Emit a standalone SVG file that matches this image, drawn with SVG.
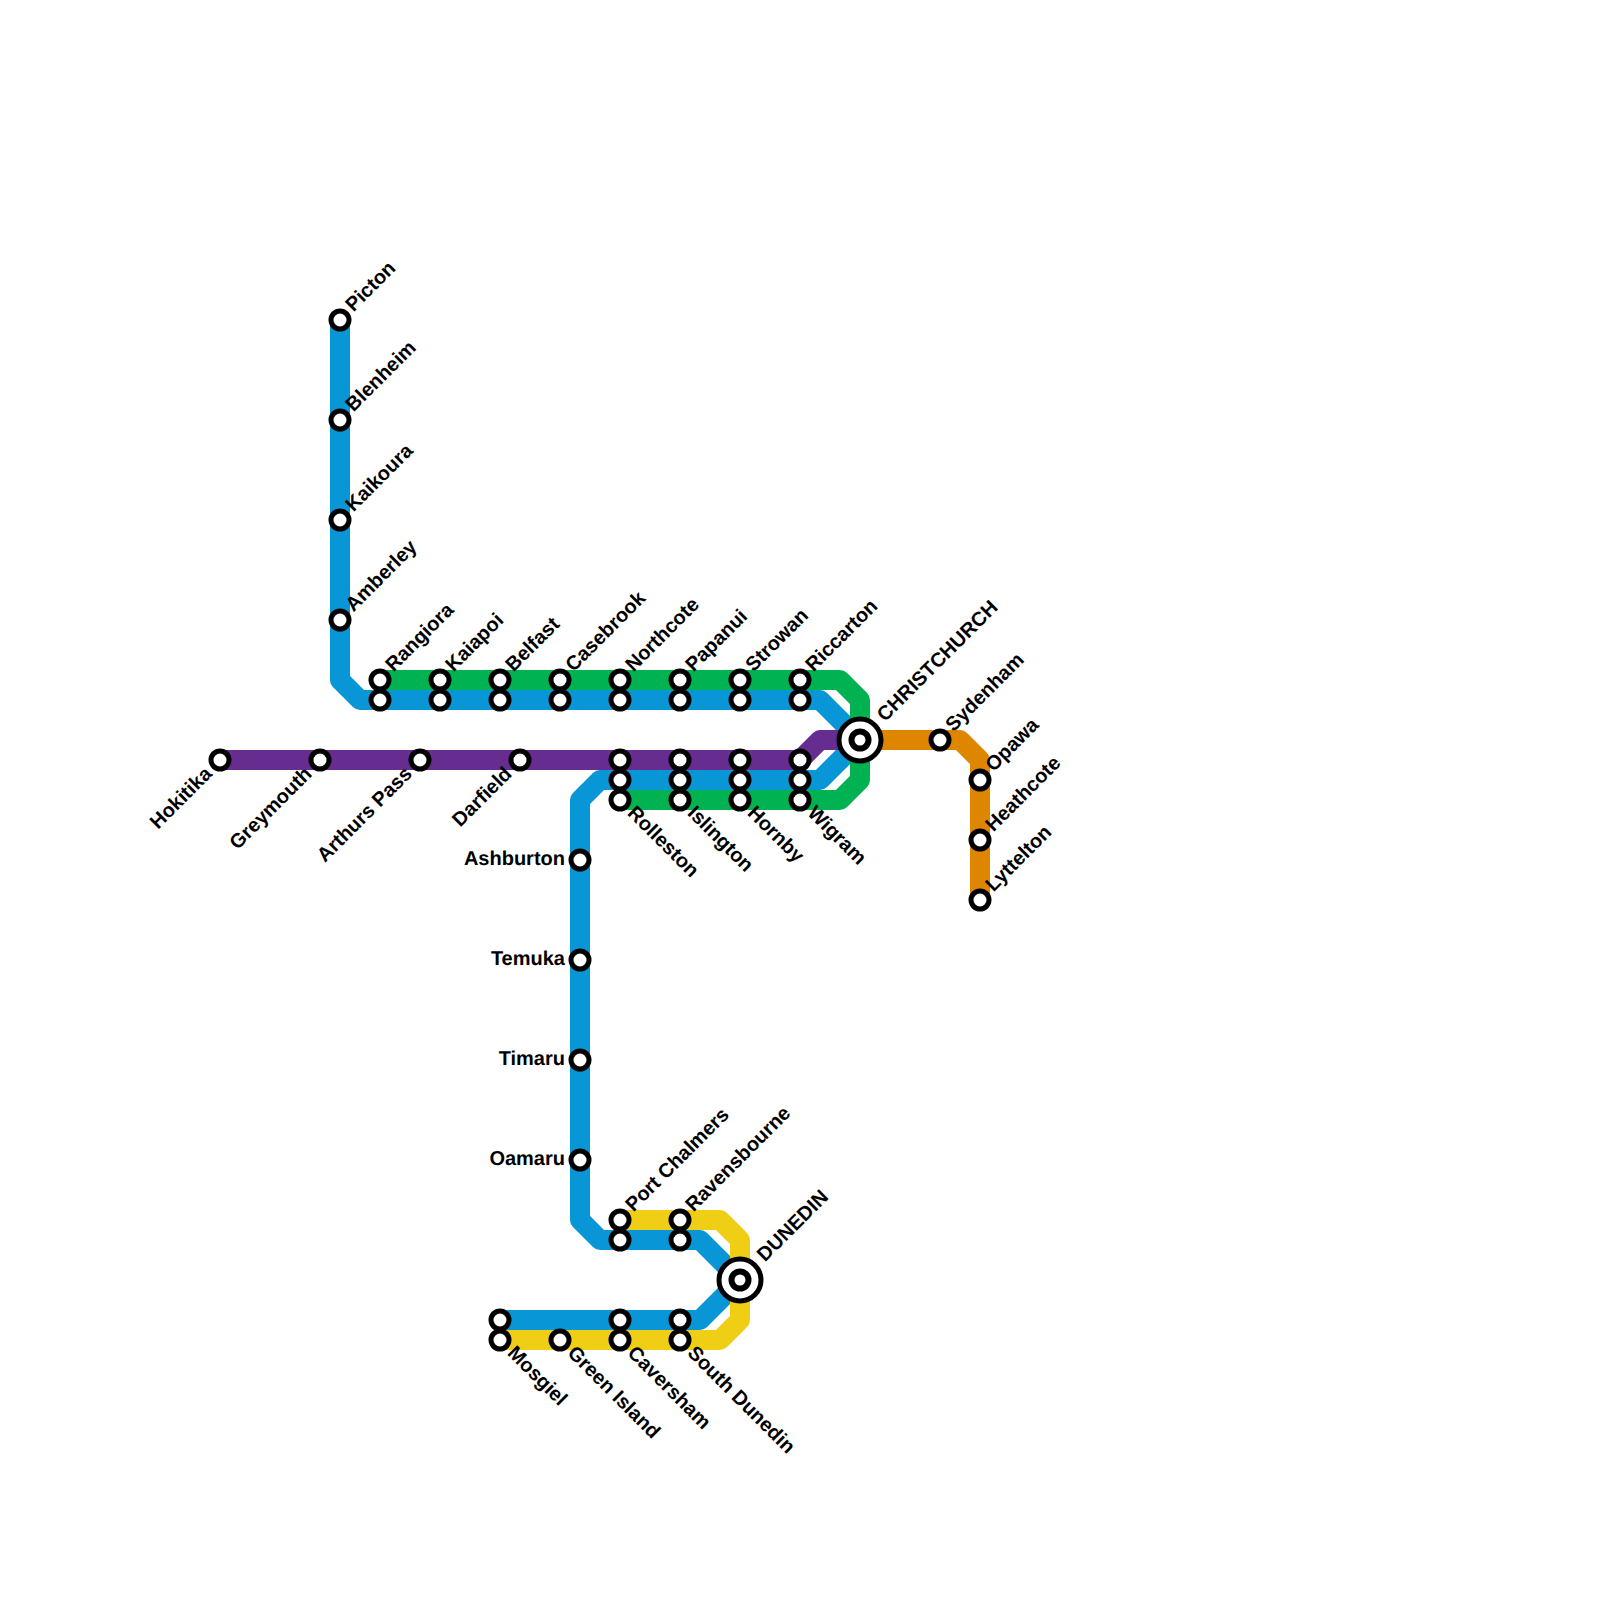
<svg xmlns="http://www.w3.org/2000/svg" width="1600" height="1600" viewBox="0 0 1600 1600">
<style>
.l{fill:none;stroke-width:20;stroke-linejoin:round;stroke-linecap:butt}
.s{fill:#fff;stroke:#000;stroke-width:5}
.h{fill:#fff;stroke:#000;stroke-width:5}
.i{fill:#fff;stroke:#000;stroke-width:6}
text{font-family:"Liberation Sans",Arial,sans-serif;font-weight:700;font-size:20px;fill:#000;text-rendering:geometricPrecision}
.e{text-anchor:end}
</style>
<rect width="1600" height="1600" fill="#fff"/>
<g id="connectors">
<path class="l" stroke="#0896d7" d="M340 320V680L360 700H820L860 740L820 780H600L580 800V1220L600 1240H700L740 1280L700 1320H500"/>
<path class="l" stroke="#00b251" d="M380 680H840L860 700V780L840 800H620"/>
<path class="l" stroke="#662c90" d="M220 760H800L820 740H860"/>
<path class="l" stroke="#df8600" d="M860 740H960L980 760V900"/>
<path class="l" stroke="#f0ce15" d="M620 1220H720L740 1240V1320L720 1340H500"/>
</g>
<g id="n-picton"><circle class="s" cx="340" cy="320" r="9"/><text transform="translate(353.5,312.5) rotate(-45)">Picton</text></g>
<g id="n-blenheim"><circle class="s" cx="340" cy="420" r="9"/><text transform="translate(353.5,412.5) rotate(-45)">Blenheim</text></g>
<g id="n-kaikoura"><circle class="s" cx="340" cy="520" r="9"/><text transform="translate(353.5,512.5) rotate(-45)">Kaikoura</text></g>
<g id="n-amberley"><circle class="s" cx="340" cy="620" r="9"/><text transform="translate(353.5,612.5) rotate(-45)">Amberley</text></g>
<g id="n-rangiora"><circle class="s" cx="380" cy="680" r="9"/><circle class="s" cx="380" cy="700" r="9"/><text transform="translate(393.5,672.5) rotate(-45)">Rangiora</text></g>
<g id="n-kaiapoi"><circle class="s" cx="440" cy="680" r="9"/><circle class="s" cx="440" cy="700" r="9"/><text transform="translate(453.5,672.5) rotate(-45)">Kaiapoi</text></g>
<g id="n-belfast"><circle class="s" cx="500" cy="680" r="9"/><circle class="s" cx="500" cy="700" r="9"/><text transform="translate(513.5,672.5) rotate(-45)">Belfast</text></g>
<g id="n-casebrook"><circle class="s" cx="560" cy="680" r="9"/><circle class="s" cx="560" cy="700" r="9"/><text transform="translate(573.5,672.5) rotate(-45)">Casebrook</text></g>
<g id="n-northcote"><circle class="s" cx="620" cy="680" r="9"/><circle class="s" cx="620" cy="700" r="9"/><text transform="translate(633.5,672.5) rotate(-45)">Northcote</text></g>
<g id="n-papanui"><circle class="s" cx="680" cy="680" r="9"/><circle class="s" cx="680" cy="700" r="9"/><text transform="translate(693.5,672.5) rotate(-45)">Papanui</text></g>
<g id="n-strowan"><circle class="s" cx="740" cy="680" r="9"/><circle class="s" cx="740" cy="700" r="9"/><text transform="translate(753.5,672.5) rotate(-45)">Strowan</text></g>
<g id="n-riccarton"><circle class="s" cx="800" cy="680" r="9"/><circle class="s" cx="800" cy="700" r="9"/><text transform="translate(813.5,672.5) rotate(-45)">Riccarton</text></g>
<g id="n-christchurch"><circle class="h" cx="860" cy="740" r="21"/><circle class="i" cx="860" cy="740" r="8.5"/><text transform="translate(885,722.5) rotate(-45)">CHRISTCHURCH</text></g>
<g id="n-sydenham"><circle class="s" cx="940" cy="740" r="9"/><text transform="translate(953.5,732.5) rotate(-45)">Sydenham</text></g>
<g id="n-opawa"><circle class="s" cx="980" cy="780" r="9"/><text transform="translate(993.5,772.5) rotate(-45)">Opawa</text></g>
<g id="n-heathcote"><circle class="s" cx="980" cy="840" r="9"/><text transform="translate(993.5,832.5) rotate(-45)">Heathcote</text></g>
<g id="n-lyttelton"><circle class="s" cx="980" cy="900" r="9"/><text transform="translate(993.5,892.5) rotate(-45)">Lyttelton</text></g>
<g id="n-hokitika"><circle class="s" cx="220" cy="760" r="9"/><text class="e" transform="translate(213,775) rotate(-45)">Hokitika</text></g>
<g id="n-greymouth"><circle class="s" cx="320" cy="760" r="9"/><text class="e" transform="translate(313,775) rotate(-45)">Greymouth</text></g>
<g id="n-arthurs"><circle class="s" cx="420" cy="760" r="9"/><text class="e" transform="translate(413,775) rotate(-45)">Arthurs Pass</text></g>
<g id="n-darfield"><circle class="s" cx="520" cy="760" r="9"/><text class="e" transform="translate(513,775) rotate(-45)">Darfield</text></g>
<g id="n-rolleston"><circle class="s" cx="620" cy="760" r="9"/><circle class="s" cx="620" cy="780" r="9"/><circle class="s" cx="620" cy="800" r="9"/><text transform="translate(626.5,814) rotate(45)">Rolleston</text></g>
<g id="n-islington"><circle class="s" cx="680" cy="760" r="9"/><circle class="s" cx="680" cy="780" r="9"/><circle class="s" cx="680" cy="800" r="9"/><text transform="translate(686.5,814) rotate(45)">Islington</text></g>
<g id="n-hornby"><circle class="s" cx="740" cy="760" r="9"/><circle class="s" cx="740" cy="780" r="9"/><circle class="s" cx="740" cy="800" r="9"/><text transform="translate(746.5,814) rotate(45)">Hornby</text></g>
<g id="n-wigram"><circle class="s" cx="800" cy="760" r="9"/><circle class="s" cx="800" cy="780" r="9"/><circle class="s" cx="800" cy="800" r="9"/><text transform="translate(806.5,814) rotate(45)">Wigram</text></g>
<g id="n-ashburton"><circle class="s" cx="580" cy="860" r="9"/><text class="e" x="565" y="865">Ashburton</text></g>
<g id="n-temuka"><circle class="s" cx="580" cy="960" r="9"/><text class="e" x="565" y="965">Temuka</text></g>
<g id="n-timaru"><circle class="s" cx="580" cy="1060" r="9"/><text class="e" x="565" y="1065">Timaru</text></g>
<g id="n-oamaru"><circle class="s" cx="580" cy="1160" r="9"/><text class="e" x="565" y="1165">Oamaru</text></g>
<g id="n-portchalmers"><circle class="s" cx="620" cy="1220" r="9"/><circle class="s" cx="620" cy="1240" r="9"/><text transform="translate(633.5,1212.5) rotate(-45)">Port Chalmers</text></g>
<g id="n-ravensbourne"><circle class="s" cx="680" cy="1220" r="9"/><circle class="s" cx="680" cy="1240" r="9"/><text transform="translate(693.5,1212.5) rotate(-45)">Ravensbourne</text></g>
<g id="n-dunedin"><circle class="h" cx="740" cy="1280" r="21"/><circle class="i" cx="740" cy="1280" r="8.5"/><text transform="translate(765,1262.5) rotate(-45)">DUNEDIN</text></g>
<g id="n-mosgiel"><circle class="s" cx="500" cy="1320" r="9"/><circle class="s" cx="500" cy="1340" r="9"/><text transform="translate(506.5,1354) rotate(45)">Mosgiel</text></g>
<g id="n-greenisland"><circle class="s" cx="560" cy="1340" r="9"/><text transform="translate(566.5,1354) rotate(45)">Green Island</text></g>
<g id="n-caversham"><circle class="s" cx="620" cy="1320" r="9"/><circle class="s" cx="620" cy="1340" r="9"/><text transform="translate(626.5,1354) rotate(45)">Caversham</text></g>
<g id="n-southdunedin"><circle class="s" cx="680" cy="1320" r="9"/><circle class="s" cx="680" cy="1340" r="9"/><text transform="translate(686.5,1354) rotate(45)">South Dunedin</text></g>
</svg>
